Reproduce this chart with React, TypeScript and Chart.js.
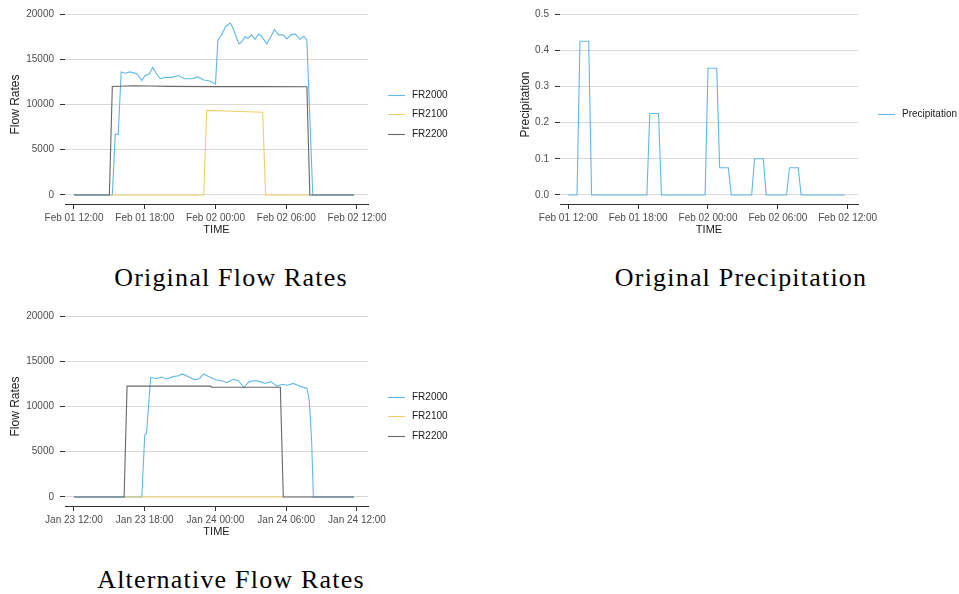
import React, { useEffect, useRef } from "react";
import { Chart, registerables } from "chart.js";

Chart.register(...registerables);

// ---------- axis ticks ----------
const tickHours = [12, 18, 24, 30, 36];
const originalTickLabels = ["Feb 01 12:00", "Feb 01 18:00", "Feb 02 00:00", "Feb 02 06:00", "Feb 02 12:00"];
const alternativeTickLabels = ["Jan 23 12:00", "Jan 23 18:00", "Jan 24 00:00", "Jan 24 06:00", "Jan 24 12:00"];
const flowTicks = [0, 5000, 10000, 15000, 20000];
const precipTicks = [0, 0.1, 0.2, 0.3, 0.4, 0.5];

// ---------- Original flow rates (hours since Feb 01 00:00) ----------
const origFR2000Hours = [12, 15.25, 15.5, 15.75, 16.0, 16.33, 16.75, 17.33, 17.75, 18.0, 18.4, 18.67, 19.0, 19.3, 19.75, 20.3, 20.85, 21.4, 22.0, 22.5, 23.0, 23.5, 24.0, 24.2, 24.5, 24.85, 25.25, 25.5, 25.8, 26.0, 26.25, 26.5, 26.75, 27.05, 27.35, 27.65, 27.9, 28.35, 28.7, 29.0, 29.35, 29.75, 30.05, 30.4, 30.75, 31.15, 31.5, 31.75, 32.0, 32.25, 35.75];
const origFR2000Values = [0, 0, 6700, 6700, 13600, 13450, 13600, 13400, 12650, 13150, 13400, 14100, 13400, 12850, 13000, 13000, 13200, 12850, 12850, 13050, 12700, 12600, 12250, 17100, 17650, 18600, 19000, 18400, 17300, 16700, 16950, 17500, 17300, 17700, 17200, 17800, 17550, 16700, 17500, 18300, 17700, 17700, 17250, 17700, 17800, 17200, 17550, 17100, 8500, 0, 0];
const origFR2100Hours = [15.0, 23.0, 23.25, 25.5, 28.0, 28.25, 32.0];
const origFR2100Values = [0, 0, 9350, 9250, 9150, 0, 0];
const origFR2200Hours = [12, 15.0, 15.25, 17.0, 18.5, 20.0, 24.0, 28.0, 31.75, 32.0, 35.75];
const origFR2200Values = [0, 0, 12000, 12080, 12050, 12000, 11980, 11980, 11970, 0, 0];

// ---------- Original precipitation ----------
const precipHours = [12, 12.75, 13.0, 13.75, 14.0, 18.75, 19.0, 19.75, 20.0, 23.75, 24.0, 24.75, 25.0, 25.75, 26.0, 27.75, 28.0, 28.75, 29.0, 30.75, 31.0, 31.75, 32.0, 35.75];
const precipValues = [0, 0, 0.425, 0.425, 0, 0, 0.225, 0.225, 0, 0, 0.35, 0.35, 0.075, 0.075, 0, 0, 0.1, 0.1, 0, 0, 0.075, 0.075, 0, 0];

// ---------- Alternative flow rates (hours since Jan 23 00:00) ----------
const altFR2000Hours = [12, 17.75, 18.0, 18.15, 18.5, 19.0, 19.45, 19.85, 20.4, 20.85, 21.2, 21.7, 22.25, 22.65, 23.0, 23.5, 24.0, 24.5, 25.0, 25.5, 25.95, 26.4, 26.85, 27.35, 27.8, 28.2, 28.7, 29.2, 29.7, 30.1, 30.6, 31.15, 31.75, 31.95, 32.15, 32.3, 35.75];
const altFR2000Values = [0, 0, 6850, 7000, 13200, 13100, 13250, 13050, 13300, 13400, 13600, 13300, 12950, 13100, 13600, 13250, 12950, 12850, 12650, 13000, 12850, 12100, 12750, 12850, 12750, 12550, 12750, 12250, 12450, 12350, 12550, 12250, 12000, 10700, 6300, 0, 0];
const altFR2100Hours = [16.25, 29.75];
const altFR2100Values = [0, 0];
const altFR2200Hours = [12, 16.25, 16.5, 23.6, 23.65, 29.5, 29.75, 35.75];
const altFR2200Values = [0, 0, 12250, 12250, 12120, 12120, 0, 0];

const BLUE = "#62b8e8";
const YELLOW = "#f2cf6a";
const GRAY = "#676767";
const SANS = "'Liberation Sans', Arial, sans-serif";
const SERIF = "'Liberation Serif', 'Times New Roman', serif";

type Series = { label: string; hours: number[]; values: number[]; color: string; order: number };

const sideLegend = {
  id: "sideLegend",
  afterDraw(chart: any) {
    const o = chart.options.plugins.sideLegend;
    if (!o) return;
    const { ctx, chartArea } = chart;
    const items = chart.data.datasets;
    const n = items.length;
    ctx.save();
    ctx.font = `10px ${SANS}`;
    ctx.textBaseline = "middle";
    ctx.textAlign = "left";
    items.forEach((ds: any, i: number) => {
      const y = Math.round(o.centerY + (i - (n - 1) / 2) * o.spacing) + 0.5;
      const x0 = chartArea.right + o.offset;
      ctx.strokeStyle = ds.borderColor;
      ctx.lineWidth = 1.1;
      ctx.beginPath();
      ctx.moveTo(x0, y);
      ctx.lineTo(x0 + 17, y);
      ctx.stroke();
      ctx.fillStyle = "#1a1a1a";
      ctx.fillText(ds.label, x0 + 24, y);
    });
    ctx.restore();
  },
};

type PanelProps = {
  left: number;
  top: number;
  width: number;
  height: number;
  series: Series[];
  yTicks: number[];
  yMin: number;
  yMax: number;
  yDecimals: number;
  yTitle: string;
  yWidth: number;
  yTitlePad: number;
  xMin: number;
  xMax: number;
  tickLabels: string[];
  padRight: number;
};

function LinePanel(p: PanelProps) {
  const ref = useRef<HTMLCanvasElement | null>(null);
  useEffect(() => {
    if (!ref.current) return;
    const chart = new Chart(ref.current, {
      type: "line",
      data: {
        datasets: p.series.map((s) => ({
          label: s.label,
          data: s.hours.map((h, i) => ({ x: h, y: s.values[i] })),
          borderColor: s.color,
          backgroundColor: s.color,
          borderWidth: 1.1,
          pointRadius: 0,
          tension: 0,
          fill: false,
          order: s.order,
        })),
      },
      options: {
        responsive: false,
        animation: false,
        devicePixelRatio: 1,
        layout: { padding: { top: 5, right: p.padRight, bottom: 0, left: 0 } },
        plugins: {
          legend: { display: false },
          tooltip: { enabled: false },
          sideLegend: { centerY: 114, spacing: 19.5, offset: 20 },
        } as any,
        scales: {
          x: {
            type: "linear",
            min: p.xMin,
            max: p.xMax,
            afterBuildTicks: (s: any) => {
              s.ticks = tickHours.map((v) => ({ value: v }));
            },
            afterFit: (s: any) => {
              s.height = 36;
              s.paddingLeft = 0;
              s.paddingRight = 0;
            },
            ticks: {
              autoSkip: false,
              maxRotation: 0,
              padding: 3,
              color: "#4d4d4d",
              font: { family: SANS, size: 10 },
              callback: (_v: any, i: number) => p.tickLabels[i],
            },
            grid: { drawOnChartArea: false, drawTicks: true, tickLength: 5, tickColor: "#333333", tickWidth: 1 },
            border: { display: true, color: "#333333", width: 1 },
            title: {
              display: true,
              text: "TIME",
              color: "#1a1a1a",
              font: { family: SANS, size: 11 },
              padding: { top: 0, bottom: 3.4 },
            },
          },
          y: {
            type: "linear",
            min: p.yMin,
            max: p.yMax,
            afterBuildTicks: (s: any) => {
              s.ticks = p.yTicks.map((v) => ({ value: v }));
            },
            afterFit: (s: any) => {
              s.width = p.yWidth;
              s.paddingTop = 0;
              s.paddingBottom = 0;
            },
            ticks: {
              padding: 6,
              color: "#4d4d4d",
              font: { family: SANS, size: 10 },
              callback: (v: any) => Number(v).toFixed(p.yDecimals),
            },
            grid: { color: "#d9d9d9", lineWidth: 1, drawTicks: true, tickLength: 5, tickColor: "#333333", tickWidth: 1 },
            border: { display: false },
            title: {
              display: true,
              text: p.yTitle,
              color: "#1a1a1a",
              font: { family: SANS, size: 12 },
              padding: { top: p.yTitlePad, bottom: 0 },
            },
          },
        },
      },
      plugins: [sideLegend as any],
    });
    return () => chart.destroy();
  }, []);
  return (
    <canvas
      ref={ref}
      width={p.width}
      height={p.height}
      style={{ position: "absolute", left: p.left, top: p.top, width: p.width, height: p.height }}
    />
  );
}

const titleStyle = (cx: number, top: number): React.CSSProperties => ({
  position: "absolute",
  left: cx - 200,
  top,
  width: 400,
  textAlign: "center",
  fontFamily: SERIF,
  fontSize: 26,
  lineHeight: "30px",
  letterSpacing: "1.2px",
  color: "#000",
  whiteSpace: "nowrap",
});

export default function App() {
  const originalSeries: Series[] = [
    { label: "FR2000", hours: origFR2000Hours, values: origFR2000Values, color: BLUE, order: 3 },
    { label: "FR2100", hours: origFR2100Hours, values: origFR2100Values, color: YELLOW, order: 2 },
    { label: "FR2200", hours: origFR2200Hours, values: origFR2200Values, color: GRAY, order: 1 },
  ];
  const altSeries: Series[] = [
    { label: "FR2000", hours: altFR2000Hours, values: altFR2000Values, color: BLUE, order: 3 },
    { label: "FR2100", hours: altFR2100Hours, values: altFR2100Values, color: YELLOW, order: 2 },
    { label: "FR2200", hours: altFR2200Hours, values: altFR2200Values, color: GRAY, order: 1 },
  ];
  const precipSeries: Series[] = [
    { label: "Precipitation", hours: precipHours, values: precipValues, color: BLUE, order: 1 },
  ];
  return (
    <div style={{ position: "absolute", left: 0, top: 0, width: 959, height: 594, background: "#fff", overflow: "hidden" }}>
      <LinePanel
        left={0} top={0} width={480} height={240}
        series={originalSeries}
        yTicks={flowTicks} yMin={-1000} yMax={21000} yDecimals={0}
        yTitle="Flow Rates" yWidth={65} yTitlePad={8.5}
        xMin={11.237} xMax={36.933} tickLabels={originalTickLabels} padRight={112}
      />
      <LinePanel
        left={480} top={0} width={479} height={240}
        series={precipSeries}
        yTicks={precipTicks} yMin={-0.025} yMax={0.525} yDecimals={1}
        yTitle="Precipitation" yWidth={80} yTitlePad={38.5}
        xMin={11.287} xMax={36.885} tickLabels={originalTickLabels} padRight={101}
      />
      <LinePanel
        left={0} top={302} width={480} height={240}
        series={altSeries}
        yTicks={flowTicks} yMin={-1000} yMax={21000} yDecimals={0}
        yTitle="Flow Rates" yWidth={65} yTitlePad={8.5}
        xMin={11.237} xMax={36.933} tickLabels={alternativeTickLabels} padRight={112}
      />
      <div style={titleStyle(231, 263)}>Original Flow Rates</div>
      <div style={titleStyle(741, 263)}>Original Precipitation</div>
      <div style={titleStyle(231, 565)}>Alternative Flow Rates</div>
    </div>
  );
}
